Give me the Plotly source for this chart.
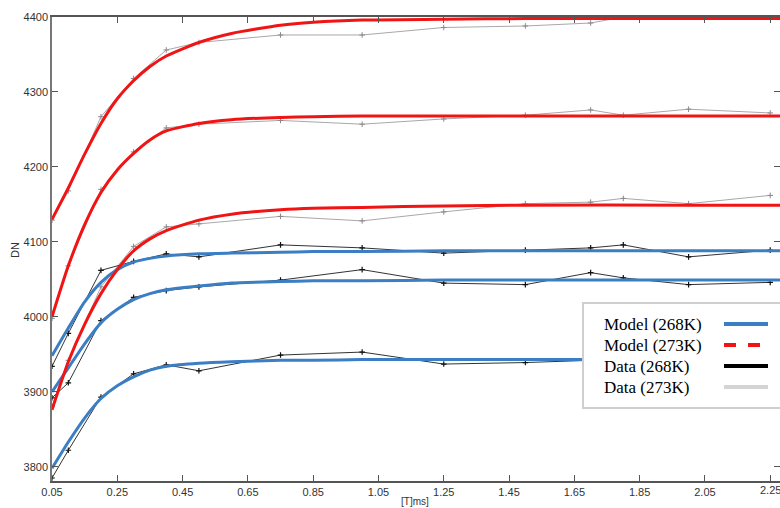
import plotly.graph_objects as go

# ---- data ----
x_data = [0.05, 0.1, 0.2, 0.3, 0.4, 0.5, 0.75, 1.0, 1.25, 1.5, 1.7, 1.8, 2.0, 2.25]
x_model = [0.05, 0.1, 0.15, 0.2, 0.25, 0.3, 0.35, 0.4, 0.5, 0.6, 0.75, 0.85, 1.0, 1.25, 1.5, 2.0, 2.28]

# 273K data (gray)
data273_a = [4129, 4168, 4267, 4318, 4356, 4366, 4376, 4376, 4386, 4388, 4392, 4400, 4400, 4400]
data273_b = [3998, 4068, 4170, 4220, 4252, 4257, 4262, 4257, 4264, 4269, 4276, 4269, 4277, 4272]
data273_c = [3880, 3942, 4040, 4094, 4120, 4124, 4134, 4128, 4140, 4151, 4153, 4158, 4151, 4162]
# 268K data (black)
data268_a = [3934, 3978, 4062, 4074, 4084, 4080, 4096, 4092, 4085, 4089, 4092, 4096, 4080, 4089]
data268_b = [3892, 3912, 3995, 4026, 4035, 4040, 4049, 4063, 4045, 4043, 4059, 4052, 4043, 4046]
data268_c = [3785, 3822, 3893, 3924, 3936, 3928, 3949, 3953, 3937, 3939, 3942, 3942, 3943, 3943]

# 273K model (red)
model273_a = [4130, 4172, 4217, 4258, 4291, 4315, 4334, 4348, 4366, 4378, 4389, 4393, 4396, 4397, 4398, 4398, 4398]
model273_b = [4000, 4068, 4123, 4166, 4196, 4218, 4236, 4248, 4258, 4263, 4266, 4267, 4268, 4268, 4268, 4268, 4268]
model273_c = [3876, 3940, 3990, 4031, 4063, 4088, 4104, 4115, 4129, 4137, 4143, 4145, 4146, 4148, 4149, 4149, 4149]
# 268K model (blue)
model268_a = [3948, 3985, 4020, 4046, 4063, 4073, 4078, 4081, 4084, 4085, 4086, 4087, 4087, 4088, 4088, 4088, 4088]
model268_b = [3900, 3932, 3964, 3992, 4010, 4023, 4031, 4036, 4041, 4045, 4047, 4048, 4048, 4049, 4049, 4049, 4049]
model268_c = [3798, 3833, 3865, 3891, 3908, 3920, 3929, 3934, 3938, 3940, 3942, 3942, 3943, 3943, 3943, 3943, 3943]

x_ticks = [0.05, 0.25, 0.45, 0.65, 0.85, 1.05, 1.25, 1.45, 1.65, 1.85, 2.05, 2.25]
x_tick_labels = ["0.05", "0.25", "0.45", "0.65", "0.85", "1.05", "1.25", "1.45", "1.65", "1.85", "2.05", "2.25"]
y_ticks = [3800, 3900, 4000, 4100, 4200, 4300, 4400]

legend_labels = ["Model (268K)", "Model (273K)", "Data (268K)", "Data (273K)"]

BLUE = "#3b7ec3"
RED = "#f01414"
BLACK = "#111111"
GRAY = "#a8a8a8"

fig = go.Figure()

for ys in [data273_a, data273_b, data273_c]:
    fig.add_trace(go.Scatter(x=x_data, y=ys, mode="lines+markers",
                             line=dict(color=GRAY, width=1),
                             marker=dict(symbol="cross-thin", size=4,
                                         line=dict(color="#888888", width=1)),
                             showlegend=False, hoverinfo="skip"))
for ys in [data268_a, data268_b, data268_c]:
    fig.add_trace(go.Scatter(x=x_data, y=ys, mode="lines+markers",
                             line=dict(color="#333333", width=1),
                             marker=dict(symbol="cross-thin", size=4,
                                         line=dict(color=BLACK, width=1.2)),
                             showlegend=False, hoverinfo="skip"))
for ys in [model268_a, model268_b, model268_c]:
    fig.add_trace(go.Scatter(x=x_model, y=ys, mode="lines",
                             line=dict(color=BLUE, width=3, shape="spline", smoothing=0.6),
                             showlegend=False, hoverinfo="skip"))
for ys in [model273_a, model273_b, model273_c]:
    fig.add_trace(go.Scatter(x=x_model, y=ys, mode="lines",
                             line=dict(color=RED, width=3, shape="spline", smoothing=0.6),
                             showlegend=False, hoverinfo="skip"))

# ---- manual legend (text left, sample right) ----
L, T, B = 52, 17, 481
W, H = 728, 464
def px(xp):
    return (xp - L) / W
def py(yp):
    return (B - yp) / H

shapes = [dict(type="rect", xref="paper", yref="paper",
               x0=px(583), x1=px(800), y0=py(408), y1=py(303),
               fillcolor="white", line=dict(color="#cfcfcf", width=2), layer="above")]
rows = [324, 345, 366, 387]
samples = [(BLUE, "solid"), (RED, "dash"), ("#000000", "solid"), ("#d4d4d4", "solid")]
annotations = []
for lab, r, (c, d) in zip(legend_labels, rows, samples):
    annotations.append(dict(text=lab, xref="paper", yref="paper", x=px(602), y=py(r),
                            xanchor="left", yanchor="middle", showarrow=False,
                            font=dict(family="Liberation Serif, Times New Roman, serif",
                                      size=17, color="#000000")))
    shapes.append(dict(type="line", xref="paper", yref="paper",
                       x0=px(724), x1=px(768), y0=py(r), y1=py(r),
                       line=dict(color=c, width=4, dash=d), layer="above"))

axis_font = dict(family="Liberation Sans, Arial, sans-serif", size=11, color="#333333")

# last tick label sits at the very edge: draw it as text so it is not dropped
annotations.append(dict(text=x_tick_labels[-1], xref="x", yref="paper", x=x_ticks[-1],
                        y=py(490), xanchor="center", yanchor="middle",
                        showarrow=False, font=axis_font))

# axis titles as annotations so the plot area stays fixed
annotations.append(dict(text="DN", xref="paper", yref="paper", x=px(15), y=py(250),
                        xanchor="center", yanchor="middle", textangle=-90,
                        showarrow=False, font=axis_font))
annotations.append(dict(text="[T]ms]", xref="paper", yref="paper", x=px(415), y=py(501),
                        xanchor="center", yanchor="middle",
                        showarrow=False, font=dict(family="Liberation Sans, Arial, sans-serif",
                                                   size=10, color="#333333")))

fig.update_layout(
    width=780, height=508,
    margin=dict(l=L, r=0, t=T, b=508 - B),
    paper_bgcolor="white", plot_bgcolor="white",
    showlegend=False,
    shapes=shapes, annotations=annotations,
    xaxis=dict(range=[0.05, 2.28], tickvals=x_ticks, ticktext=x_tick_labels[:-1] + [""],
               showgrid=False, zeroline=False, showline=True, linecolor="#555555",
               linewidth=1.5, mirror="ticks", ticks="inside", ticklen=6,
               tickcolor="#555555", tickfont=axis_font, automargin=False),
    yaxis=dict(range=[3781, 4400], tickvals=y_ticks,
               showgrid=False, zeroline=False, showline=True, linecolor="#777777",
               linewidth=1.5, mirror="ticks", ticks="inside", ticklen=6,
               tickcolor="#555555", tickfont=axis_font, automargin=False),
)

fig.write_html("out.html", config={"displayModeBar": False},
               post_script="document.body.style.margin='0';document.body.style.padding='0';"
                           "document.body.style.overflow='hidden';")
